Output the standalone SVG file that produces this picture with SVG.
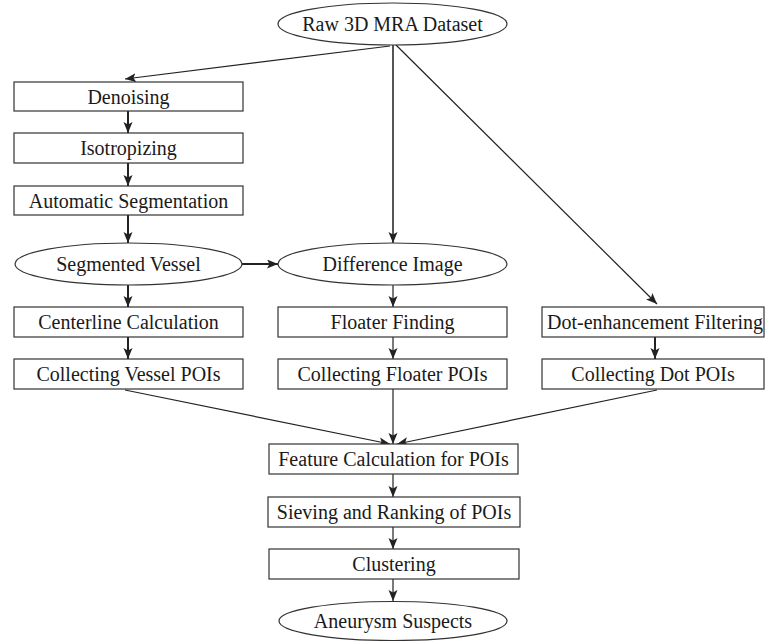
<svg xmlns="http://www.w3.org/2000/svg" width="765" height="642" viewBox="0 0 765 642">
<defs>
<style>
.n rect,.n ellipse{fill:#fff;stroke:#333;stroke-width:1.2}
.n text{font-family:"Liberation Serif","Times New Roman",serif;font-size:20px;fill:#1a1a1a;text-anchor:middle}
.c line{stroke:#222;stroke-width:1.2;fill:none;marker-end:url(#ah)}
.c line.t{stroke-width:2}
.c line.g{stroke:#555;stroke-width:2}
</style>
<marker id="ah" markerUnits="userSpaceOnUse" markerWidth="12" markerHeight="10" refX="11" refY="4.5" orient="auto">
<path d="M0,0 L11,4.5 L0,9 L2.5,4.5 z" fill="#222"/>
</marker>
</defs>
<rect width="765" height="642" fill="#fff"/>
<g class="c" id="connectors">
<line x1="390" y1="46" x2="125" y2="79"/>
<line class="g" x1="393" y1="45" x2="393" y2="243"/>
<line x1="396" y1="45" x2="657" y2="304"/>
<line class="t" x1="128" y1="111" x2="128" y2="133"/>
<line class="t" x1="128" y1="163" x2="128" y2="186"/>
<line class="t" x1="128" y1="215" x2="128" y2="243"/>
<line class="t" x1="242" y1="264" x2="278" y2="264"/>
<line class="t" x1="128" y1="285" x2="128" y2="307"/>
<line class="t" x1="128" y1="337" x2="128" y2="359"/>
<line x1="393" y1="285" x2="393" y2="307"/>
<line x1="393" y1="337" x2="393" y2="359"/>
<line class="t" x1="655" y1="337" x2="655" y2="359"/>
<line x1="125" y1="390" x2="390" y2="444"/>
<line x1="393" y1="389" x2="393" y2="444"/>
<line x1="657" y1="390" x2="397" y2="444"/>
<line x1="393" y1="474" x2="393" y2="497"/>
<line x1="393" y1="527" x2="393" y2="549"/>
<line x1="393" y1="579" x2="393" y2="601"/>
</g>
<g class="n" id="raw"><ellipse cx="392.5" cy="24" rx="114.5" ry="21"/><text x="392.5" y="31">Raw 3D MRA Dataset</text></g>
<g class="n" id="denoising"><rect x="14" y="82" width="229" height="29"/><text x="128.5" y="103.5">Denoising</text></g>
<g class="n" id="isotropizing"><rect x="14" y="133" width="229" height="30"/><text x="128.5" y="155">Isotropizing</text></g>
<g class="n" id="autoseg"><rect x="14" y="186" width="229" height="29"/><text x="128.5" y="207.5">Automatic Segmentation</text></g>
<g class="n" id="segvessel"><ellipse cx="128.5" cy="264" rx="113.5" ry="21"/><text x="128.5" y="271">Segmented Vessel</text></g>
<g class="n" id="diffimage"><ellipse cx="392.5" cy="264" rx="114.5" ry="21"/><text x="392.5" y="271">Difference Image</text></g>
<g class="n" id="centerline"><rect x="14" y="307" width="229" height="30"/><text x="128.5" y="329">Centerline Calculation</text></g>
<g class="n" id="collvessel"><rect x="14" y="359" width="229" height="30"/><text x="128.5" y="381">Collecting Vessel POIs</text></g>
<g class="n" id="floater"><rect x="278" y="307" width="229" height="30"/><text x="392.5" y="329">Floater Finding</text></g>
<g class="n" id="collfloater"><rect x="278" y="359" width="229" height="30"/><text x="392.5" y="381">Collecting Floater POIs</text></g>
<g class="n" id="dotfilter"><rect x="542" y="307" width="222" height="30"/><text x="655" y="329">Dot-enhancement Filtering</text></g>
<g class="n" id="colldot"><rect x="542" y="359" width="222" height="30"/><text x="653" y="381">Collecting Dot POIs</text></g>
<g class="n" id="feature"><rect x="269" y="444" width="249" height="30"/><text x="393.5" y="466">Feature Calculation for POIs</text></g>
<g class="n" id="sieving"><rect x="268" y="497" width="252" height="30"/><text x="394" y="519">Sieving and Ranking of POIs</text></g>
<g class="n" id="clustering"><rect x="269" y="549" width="250" height="30"/><text x="394" y="571">Clustering</text></g>
<g class="n" id="aneurysm"><ellipse cx="393" cy="621" rx="114" ry="19.5"/><text x="393" y="628">Aneurysm Suspects</text></g>
</svg>
